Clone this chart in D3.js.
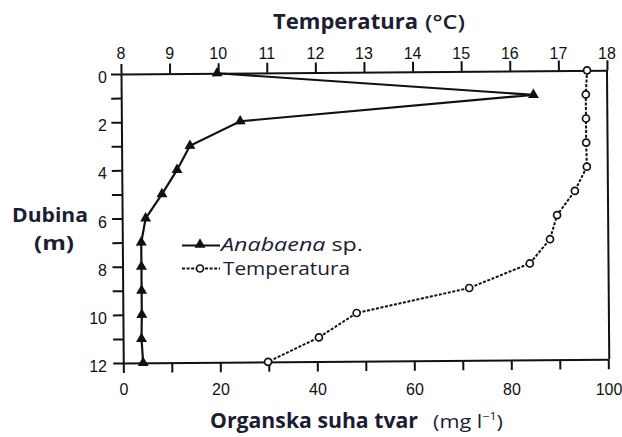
<!DOCTYPE html>
<html><head><meta charset="utf-8">
<script src="https://cdn.jsdelivr.net/npm/d3@7"></script>
<style>
html,body{margin:0;padding:0;background:#fff;}
svg{display:block;}
</style></head>
<body>
<svg id="chart" width="622" height="437"></svg>
<script>
// ---- data ----
const depths = [0,1,2,3,4,5,6,7,8,9,10,11,12];
const anabaena = [19.8, 85.0, 24.5, 14.1, 11.4, 8.25, 4.85, 3.9, 3.9, 3.9, 3.9, 3.8, 4.1];   // mg l-1
const temperature = [17.59, 17.56, 17.56, 17.56, 17.57, 17.32, 16.95, 16.80, 16.38, 15.13, 12.81, 12.03, 10.98]; // °C
const tempTicks = [8,9,10,11,12,13,14,15,16,17,18];
const dryTicks = [0,10,20,30,40,50,60,70,80,90,100];
const dryLabels = [0,20,40,60,80,100];
const depthTicks = [0,1,2,3,4,5,6,7,8,9,10,11,12];
const depthLabels = [0,2,4,6,8,10,12];

const svg = d3.select("#chart");
const ink = "#111";
const titleCol = "#1b1d33";

const y = d3.scaleLinear().domain([0,12]).range([74,363]);
const xB = d3.scaleLinear().domain([0,100]).range([121,606]);
const xT = d3.scaleLinear().domain([8,18]).range([121,607]);

// plot (slightly rotated like the scanned original)
const g = svg.append("g").attr("transform","rotate(-0.45,121,74)");

const axL = d3.axisLeft(y).tickValues(depthTicks).tickSize(10).tickSizeOuter(0).tickFormat("");
const axT = d3.axisTop(xT).tickValues(tempTicks).tickSize(10).tickSizeOuter(0).tickFormat("");
const axB = d3.axisBottom(xB).tickValues(dryTicks).tickSize(10).tickSizeOuter(0).tickFormat("");

function styleAxis(sel){
  sel.select(".domain").attr("stroke",ink).attr("stroke-width",2);
  sel.selectAll(".tick line").attr("stroke",ink).attr("stroke-width",2);
}
g.append("g").attr("transform","translate(121,0)").call(axL).call(styleAxis);
g.append("g").attr("transform","translate(0,74)").call(axT).call(styleAxis);
g.append("g").attr("transform","translate(0,363)").call(axB).call(styleAxis);
// right frame
g.append("line").attr("x1",xT(18)).attr("x2",xT(18)).attr("y1",y(0)).attr("y2",y(12))
  .attr("stroke",ink).attr("stroke-width",2);

// temperature line (dashed, open circles)
const tData = depths.map((d,i)=>({d, v: temperature[i]}));
g.append("path").datum(tData)
  .attr("d", d3.line().x(p=>xT(p.v)).y(p=>y(p.d)))
  .attr("fill","none").attr("stroke",ink).attr("stroke-width",2).attr("stroke-dasharray","3,1.6");
g.selectAll(".tc").data(tData).enter().append("circle")
  .attr("cx",p=>xT(p.v)).attr("cy",p=>y(p.d)).attr("r",3.5)
  .attr("fill","#fff").attr("stroke",ink).attr("stroke-width",1.7);

// Anabaena line (solid, triangles)
const aData = depths.map((d,i)=>({d, v: anabaena[i]}));
g.append("path").datum(aData)
  .attr("d", d3.line().x(p=>xB(p.v)).y(p=>y(p.d)))
  .attr("fill","none").attr("stroke",ink).attr("stroke-width",2.2);
const tri = d3.symbol().type(d3.symbolTriangle).size(52);
g.selectAll(".ta").data(aData).enter().append("path")
  .attr("d",tri).attr("transform",p=>`translate(${xB(p.v)},${y(p.d)})`).attr("fill",ink);

// ---- tick labels (unrotated) ----
const lblFont = "'Liberation Sans', Arial, sans-serif";
svg.append("g").selectAll("text").data(tempTicks).enter().append("text")
  .attr("x",d=>xT(d)).attr("y",59).attr("text-anchor","middle")
  .attr("font-family",lblFont).attr("font-size",16).attr("fill",ink).text(d=>d);
svg.append("g").selectAll("text").data(dryLabels).enter().append("text")
  .attr("x",d=>xB(d)+3).attr("y",395).attr("text-anchor","middle")
  .attr("font-family",lblFont).attr("font-size",16).attr("fill",ink).text(d=>d);
svg.append("g").selectAll("text").data(depthLabels).enter().append("text")
  .attr("x",107).attr("y",d=>y(d)+9).attr("text-anchor","end")
  .attr("font-family",lblFont).attr("font-size",16).attr("fill",ink).text(d=>d);

// ---- axis titles ----
const tFont = "'Open Sans', 'Noto Sans', sans-serif";
function label(x, yy, txt, size, weight, len){
  const t = svg.append("text").attr("x",x).attr("y",yy).attr("font-family",tFont)
    .attr("font-size",size).attr("font-weight",weight).attr("fill",titleCol).text(txt);
  if(len) t.attr("textLength",len).attr("lengthAdjust","spacingAndGlyphs");
  return t;
}
label(273, 29, "Temperatura", 21, 700, 145);
label(425, 29, "(°C)", 19, 600, 40);
label(210, 428, "Organska suha tvar", 21, 700, 208);
const mg = svg.append("text").attr("x",433).attr("y",428).attr("font-family",tFont)
  .attr("font-size",19).attr("fill",titleCol)
  .attr("textLength",70).attr("lengthAdjust","spacingAndGlyphs");
mg.append("tspan").text("(mg l");
mg.append("tspan").attr("font-size",11).attr("dy",-8).text("−1");
mg.append("tspan").attr("dy",8).text(")");
label(12, 222, "Dubina", 20, 700, 76);
label(34, 250, "(m)", 20, 700, 40);

// ---- legend ----
const lg = svg.append("g");
lg.append("line").attr("x1",182).attr("x2",220).attr("y1",245.5).attr("y2",245.5).attr("stroke",ink).attr("stroke-width",2.2);
lg.append("path").attr("d",tri).attr("transform","translate(200,244.5)").attr("fill",ink);
const l1 = lg.append("text").attr("x",221).attr("y",251).attr("font-family",tFont).attr("font-size",19).attr("fill",titleCol)
  .attr("textLength",142).attr("lengthAdjust","spacingAndGlyphs");
l1.append("tspan").attr("font-style","italic").text("Anabaena");
l1.append("tspan").text(" sp.");
lg.append("line").attr("x1",182).attr("x2",220).attr("y1",268.5).attr("y2",268.5).attr("stroke",ink).attr("stroke-width",2).attr("stroke-dasharray","3,1.6");
lg.append("circle").attr("cx",200).attr("cy",268.5).attr("r",3.5).attr("fill","#fff").attr("stroke",ink).attr("stroke-width",1.7);
label(223, 275, "Temperatura", 19, 400, 127);
</script>
</body></html>
